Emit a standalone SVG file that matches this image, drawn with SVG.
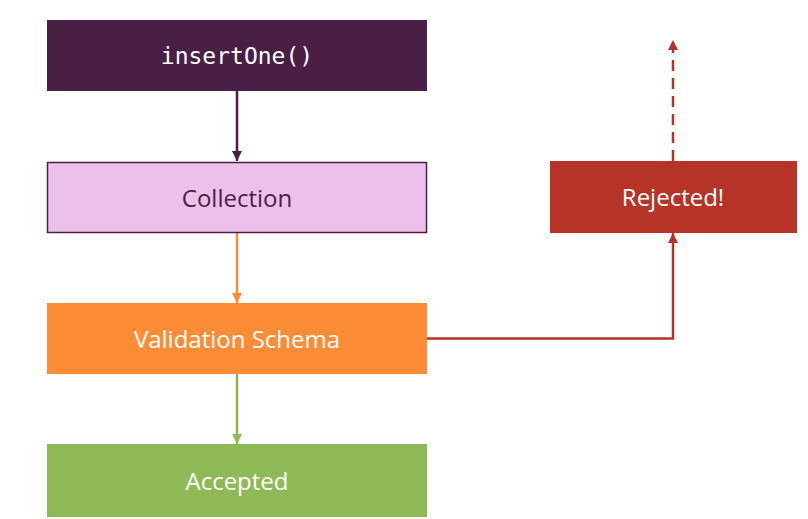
<svg xmlns="http://www.w3.org/2000/svg" width="808" height="519" viewBox="0 0 808 519">
<style>
.lbl{font-family:"Open Sans","Noto Sans",sans-serif;font-size:24px;text-anchor:middle;dominant-baseline:central}
.mono{font-family:"DejaVu Sans Mono","Liberation Mono",monospace;font-size:23px;text-anchor:middle;dominant-baseline:central;fill:#ffffff}
.w{fill:#ffffff}
.conn{fill:none;stroke-width:2.5}
</style>
<defs>
<marker id="aP" viewBox="0 0 10 10" refX="10" refY="5" markerWidth="4" markerHeight="4" orient="auto"><path d="M0,0L10,5L0,10z" fill="#4a1f45"/></marker>
<marker id="aO" viewBox="0 0 10 10" refX="10" refY="5" markerWidth="4" markerHeight="4" orient="auto"><path d="M0,0L10,5L0,10z" fill="#fd8c37"/></marker>
<marker id="aG" viewBox="0 0 10 10" refX="10" refY="5" markerWidth="4" markerHeight="4" orient="auto"><path d="M0,0L10,5L0,10z" fill="#8fb956"/></marker>
<marker id="aR" viewBox="0 0 10 10" refX="10" refY="5" markerWidth="4" markerHeight="4" orient="auto"><path d="M0,0L10,5L0,10z" fill="#b53427"/></marker>
</defs>
<rect width="808" height="519" fill="#ffffff"/>
<g id="connectors">
<line class="conn" x1="237" y1="91" x2="237" y2="161" stroke="#4a1f45" marker-end="url(#aP)"/>
<line class="conn" x1="237" y1="233" x2="237" y2="303" stroke="#fd8c37" marker-end="url(#aO)"/>
<line class="conn" x1="237" y1="374" x2="237" y2="444" stroke="#8fb956" marker-end="url(#aG)"/>
<polyline class="conn" points="427,338.5 673,338.5 673,233" stroke="#b53427" marker-end="url(#aR)"/>
<line class="conn" x1="673" y1="161" x2="673" y2="40" stroke="#b53427" stroke-dasharray="11,7" marker-end="url(#aR)"/>
</g>
<g id="insertOne">
<rect x="47" y="20" width="380" height="71" fill="#4a1f45"/>
<text class="mono" x="237" y="56">insertOne()</text>
</g>
<g id="collection">
<rect x="47.5" y="162.5" width="379" height="70" fill="#ecc0ea" stroke="#4a1f45" stroke-width="1.5"/>
<text class="lbl" x="237" y="197" fill="#4a1f45">Collection</text>
</g>
<g id="validation">
<rect x="47" y="303" width="380" height="71" fill="#fd8c37"/>
<text class="lbl w" x="237" y="338">Validation Schema</text>
</g>
<g id="accepted">
<rect x="47" y="444" width="380" height="73" fill="#8fb956"/>
<text class="lbl w" x="237" y="480">Accepted</text>
</g>
<g id="rejected">
<rect x="550" y="161" width="247" height="72" fill="#b53427"/>
<text class="lbl w" x="673" y="196">Rejected!</text>
</g>
</svg>
